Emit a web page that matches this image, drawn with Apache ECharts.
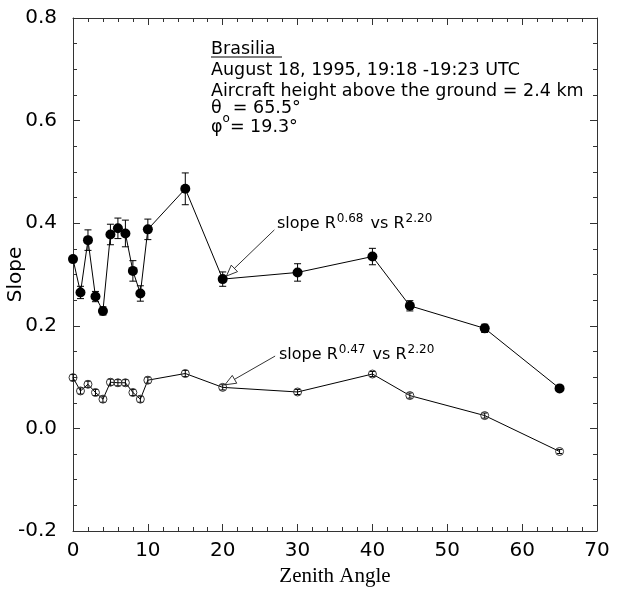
<!DOCTYPE html>
<html><head><meta charset="utf-8">
<script src="https://cdn.jsdelivr.net/npm/echarts@6/dist/echarts.min.js"></script>
<style>html,body{margin:0;padding:0;background:#fff}#c{width:617px;height:591px}</style>
</head><body><div id="c"></div>
<script>
// ---- data ----
const zenith   = [0, 1, 2, 3, 4, 5, 6, 7, 8, 9, 10, 15, 20, 30, 40, 45, 55, 65];
const slope068 = [0.330, 0.265, 0.367, 0.257, 0.229, 0.378, 0.390, 0.380, 0.307, 0.263, 0.388, 0.467, 0.291, 0.304, 0.335, 0.239, 0.195, 0.078];
const err068   = [0.004, 0.012, 0.020, 0.010, 0.008, 0.020, 0.020, 0.026, 0.020, 0.015, 0.020, 0.031, 0.014, 0.017, 0.016, 0.010, 0.008, 0.003];
const slope047 = [0.099, 0.073, 0.086, 0.070, 0.057, 0.090, 0.089, 0.089, 0.070, 0.057, 0.094, 0.107, 0.080, 0.071, 0.106, 0.064, 0.025, -0.045];
const err047   = [0.006, 0.006, 0.006, 0.006, 0.006, 0.006, 0.006, 0.006, 0.006, 0.006, 0.006, 0.006, 0.005, 0.005, 0.005, 0.005, 0.005, 0.004];
const xTicks = [0, 10, 20, 30, 40, 50, 60, 70];
const yTicks = [-0.2, 0.0, 0.2, 0.4, 0.6, 0.8];
// arrows: [fromX, fromY, toX, toY] in data units
const arrows = [[26.9, 0.387, 20.5, 0.297], [27.0, 0.141, 20.3, 0.085]];

const AX = '#333';
const tickFont = {fontFamily: 'DejaVu Sans', fontSize: 20, color: '#000'};

function errRender(cap) {
  return function (params, api) {
    const x = api.value(0), y = api.value(1), e = api.value(2);
    const hi = api.coord([x, y + e]), lo = api.coord([x, y - e]);
    const st = {stroke: '#000', lineWidth: 1};
    return {type: 'group', children: [
      {type: 'line', shape: {x1: hi[0], y1: hi[1], x2: lo[0], y2: lo[1]}, style: st},
      {type: 'line', shape: {x1: hi[0] - cap, y1: hi[1], x2: hi[0] + cap, y2: hi[1]}, style: st},
      {type: 'line', shape: {x1: lo[0] - cap, y1: lo[1], x2: lo[0] + cap, y2: lo[1]}, style: st}
    ]};
  };
}

function arrowRender(params, api) {
  const a = api.coord([api.value(0), api.value(1)]);
  const b = api.coord([api.value(2), api.value(3)]);
  const dx = b[0] - a[0], dy = b[1] - a[1];
  const L = Math.sqrt(dx * dx + dy * dy), ux = dx / L, uy = dy / L;
  const hl = 11, hw = 4.5;
  const bx = b[0] - ux * hl, by = b[1] - uy * hl;
  const px = -uy, py = ux;
  return {type: 'group', children: [
    {type: 'line', shape: {x1: a[0], y1: a[1], x2: bx, y2: by}, style: {stroke: '#000', lineWidth: 0.8}},
    {type: 'polygon', shape: {points: [[b[0], b[1]], [bx + px * hw, by + py * hw], [bx - px * hw, by - py * hw]]},
     style: {fill: '#fff', stroke: '#000', lineWidth: 0.8}}
  ]};
}

const chart = echarts.init(document.getElementById('c'), null, {renderer: 'canvas'});
const baseX = {
  type: 'value', min: 0, max: 70, interval: 10,
  axisLine: {show: true, onZero: false, lineStyle: {color: AX, width: 1}},
  axisTick: {show: true, inside: true, length: 7, lineStyle: {color: AX}},
  minorTick: {show: true, splitNumber: 5, length: 4, lineStyle: {color: AX}},
  splitLine: {show: false}
};
const baseY = {
  type: 'value', min: -0.2, max: 0.8, interval: 0.2,
  axisLine: {show: true, onZero: false, lineStyle: {color: AX, width: 1}},
  axisTick: {show: true, inside: true, length: 7, lineStyle: {color: AX}},
  minorTick: {show: true, splitNumber: 4, length: 4, lineStyle: {color: AX}},
  splitLine: {show: false}
};

const supRich = {
  a: {fontFamily: 'DejaVu Sans', fontSize: 16, lineHeight: 19, verticalAlign: 'bottom', color: '#000'},
  s: {fontFamily: 'DejaVu Sans', fontSize: 12, lineHeight: 10, verticalAlign: 'top', color: '#000', padding: [0, 2, 0, 1]}
};

const option = {
  animation: false,
  backgroundColor: '#fff',
  grid: {left: 73, right: 20, top: 18, bottom: 60, containLabel: false, outerBoundsMode: 'none'},
  xAxis: [
    Object.assign({}, baseX, {
      position: 'bottom',
      name: 'Zenith Angle', nameLocation: 'middle', nameGap: 35, nameMoveOverlap: false,
      nameTextStyle: {fontFamily: 'Liberation Serif', fontSize: 21, color: '#000'},
      axisLabel: Object.assign({margin: 10, formatter: v => xTicks.includes(v) ? String(v) : ''}, tickFont)
    }),
    Object.assign({}, baseX, {position: 'top', axisLabel: {show: false}})
  ],
  yAxis: [
    Object.assign({}, baseY, {
      position: 'left',
      name: 'Slope', nameLocation: 'middle', nameGap: 47, nameMoveOverlap: false,
      nameTextStyle: {fontFamily: 'DejaVu Sans', fontSize: 20, color: '#000'},
      axisLabel: Object.assign({margin: 16, formatter: v => {
        const t = yTicks.find(k => Math.abs(k - v) < 1e-9);
        return t === undefined ? '' : t.toFixed(1);
      }}, tickFont)
    }),
    Object.assign({}, baseY, {position: 'right', axisLabel: {show: false}})
  ],
  series: [
    {type: 'custom', renderItem: errRender(3.5), data: zenith.map((x, i) => [x, slope068[i], err068[i]]), z: 2, silent: true},
    {type: 'custom', renderItem: errRender(2.5), data: zenith.map((x, i) => [x, slope047[i], err047[i]]), z: 2, silent: true},
    {type: 'line', data: zenith.map((x, i) => [x, slope068[i]]), symbol: 'circle', symbolSize: 10,
     lineStyle: {color: '#000', width: 1}, itemStyle: {color: '#000', borderWidth: 0}, z: 3},
    {type: 'line', data: zenith.map((x, i) => [x, slope047[i]]), symbol: 'circle', symbolSize: 8,
     lineStyle: {color: '#000', width: 1}, itemStyle: {color: 'rgba(255,255,255,0)', borderColor: '#333', borderWidth: 1}, z: 3},
    {type: 'custom', renderItem: arrowRender, data: arrows, z: 4, silent: true}
  ],
  graphic: [
    {type: 'text', left: 211, top: 40, style: {text: 'Brasilia', font: '17.5px "DejaVu Sans"', fill: '#000'}},
    {type: 'line', shape: {x1: 211, y1: 57, x2: 282, y2: 57}, style: {stroke: '#000', lineWidth: 1}},
    {type: 'text', left: 211, top: 61, style: {text: 'August 18, 1995, 19:18 -19:23 UTC', font: '17.5px "DejaVu Sans"', fill: '#000'}},
    {type: 'text', left: 211, top: 82, style: {text: 'Aircraft height above the ground = 2.4 km', font: '17.5px "DejaVu Sans"', fill: '#000'}},
    {type: 'text', left: 211, top: 99, style: {text: 'θ  = 65.5°', font: '17.5px "DejaVu Sans"', fill: '#000'}},
    {type: 'text', left: 211, top: 113, style: {
      text: '{a|φ}{s|o}{a|= 19.3°}',
      rich: {a: {fontFamily: 'DejaVu Sans', fontSize: 17.5, lineHeight: 23, verticalAlign: 'bottom', color: '#000'},
             s: {fontFamily: 'DejaVu Sans', fontSize: 12, lineHeight: 12, verticalAlign: 'top', color: '#000'}}}},
    {type: 'text', left: 277, top: 213, style: {text: '{a|slope R}{s|0.68}{a| vs R}{s|2.20}', rich: supRich}},
    {type: 'text', left: 279, top: 344, style: {text: '{a|slope R}{s|0.47}{a| vs R}{s|2.20}', rich: supRich}}
  ]
};
chart.setOption(option);
</script>
</body></html>
